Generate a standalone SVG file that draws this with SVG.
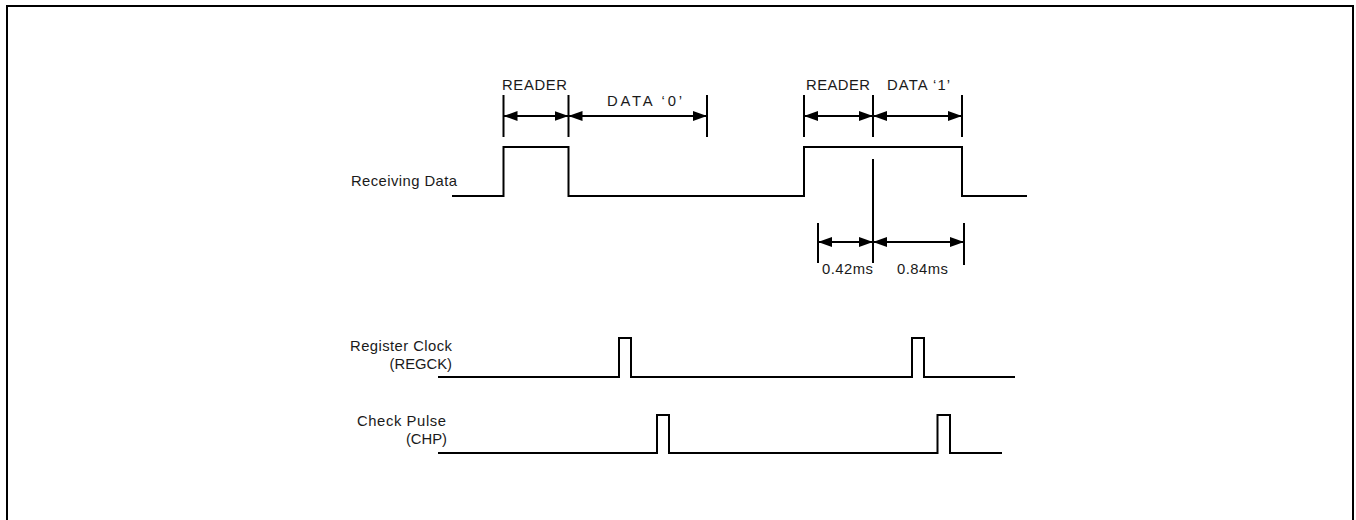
<svg xmlns="http://www.w3.org/2000/svg" width="1356" height="520" viewBox="0 0 1356 520">
<style>
.w{fill:none;stroke:#000;stroke-width:2;stroke-linejoin:miter}
.t{fill:none;stroke:#000;stroke-width:2}
.d{fill:none;stroke:#000;stroke-width:2;marker-start:url(#ah);marker-end:url(#ah)}
text{font-family:"Liberation Sans",Arial,sans-serif;font-size:14.8px;fill:#1a1a1a}
</style>
<defs>
<marker id="ah" viewBox="0 0 14 10" refX="14" refY="5" markerWidth="14" markerHeight="10" markerUnits="userSpaceOnUse" orient="auto-start-reverse">
<path d="M0,0 L14,5 L0,10 Z" fill="#000"/>
</marker>
</defs>
<rect x="7" y="6" width="1346" height="530" fill="#fff" stroke="#000" stroke-width="2"/>
<g id="receiving-data">
<text x="351" y="186" textLength="106" lengthAdjust="spacing">Receiving Data</text>
<path class="w" d="M452,196 H503.5 V147 H568.5 V196 H804 V147 H962 V196 H1027"/>
</g>
<g id="register-clock">
<text x="350" y="351" textLength="102" lengthAdjust="spacing">Register Clock</text>
<text x="452" y="369" text-anchor="end">(REGCK)</text>
<path class="w" d="M438,377 H619 V338 H631 V377 H912 V338 H924 V377 H1015"/>
</g>
<g id="check-pulse">
<text x="357" y="426" textLength="89" lengthAdjust="spacing">Check Pulse</text>
<text x="447" y="444" text-anchor="end">(CHP)</text>
<path class="w" d="M438,453 H657 V415 H669 V453 H937.5 V415 H950 V453 H1002"/>
</g>
<g id="labels">
<text x="502" y="90" textLength="65" lengthAdjust="spacing">READER</text>
<text x="607" y="106" textLength="75" lengthAdjust="spacing">DATA ‘0’</text>
<text x="806" y="90" textLength="64" lengthAdjust="spacing">READER</text>
<text x="887" y="90" textLength="63" lengthAdjust="spacing">DATA ‘1’</text>
<text x="822" y="274" textLength="51" lengthAdjust="spacing">0.42ms</text>
<text x="897" y="274" textLength="51" lengthAdjust="spacing">0.84ms</text>
</g>
<g id="connectors">
<line class="t" x1="503.5" y1="95" x2="503.5" y2="137"/>
<line class="t" x1="568.5" y1="95" x2="568.5" y2="137"/>
<line class="t" x1="707" y1="95" x2="707" y2="137"/>
<line class="t" x1="804" y1="95" x2="804" y2="137"/>
<line class="t" x1="873" y1="95" x2="873" y2="137"/>
<line class="t" x1="962" y1="95" x2="962" y2="137"/>
<line class="t" x1="873" y1="159" x2="873" y2="263"/>
<line class="t" x1="818" y1="223" x2="818" y2="263"/>
<line class="t" x1="964" y1="223" x2="964" y2="265"/>
<line class="d" x1="503.5" y1="116" x2="568.5" y2="116"/>
<line class="d" x1="568.5" y1="116" x2="707" y2="116"/>
<line class="d" x1="804" y1="116" x2="873" y2="116"/>
<line class="d" x1="873" y1="116" x2="962" y2="116"/>
<line class="d" x1="818" y1="242" x2="873" y2="242"/>
<line class="d" x1="873" y1="242" x2="964" y2="242"/>
</g>
</svg>
